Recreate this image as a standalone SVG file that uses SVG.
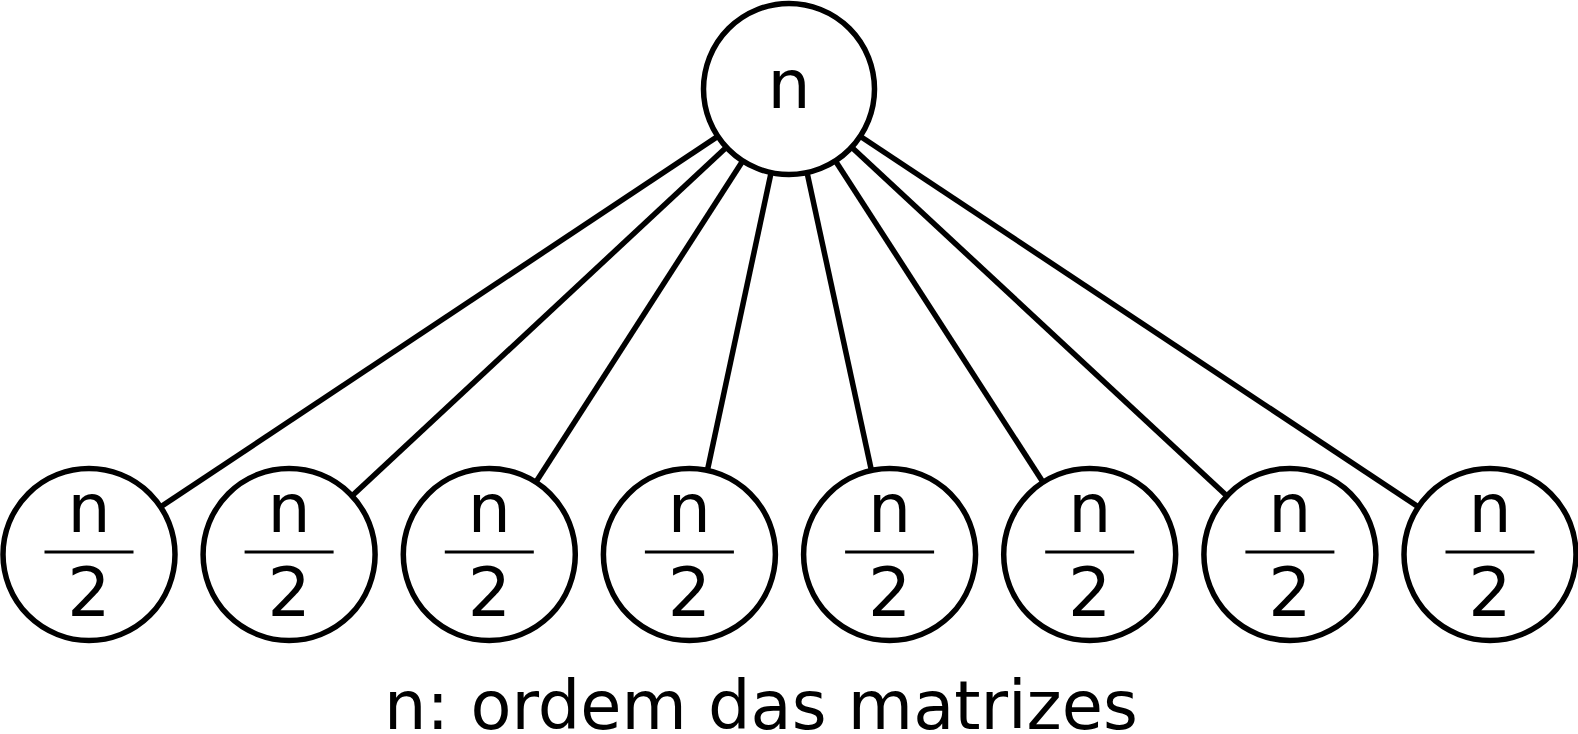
<svg xmlns="http://www.w3.org/2000/svg" width="1578" height="734" viewBox="0 0 1578 734">
<style>
.node{fill:#fff;stroke:#000;stroke-width:5.5}
.edge{stroke:#000;stroke-width:5.5;fill:none}
.bar{stroke:#000;stroke-width:3}
text{font-family:"DejaVu Sans",sans-serif;fill:#000;text-anchor:middle}
.t{font-size:68px}
.cap{font-size:67px}
</style>
<rect width="1578" height="734" fill="#fff"/>
<g id="connectors">
<line class="edge" x1="789" y1="89" x2="89" y2="554.5"/>
<line class="edge" x1="789" y1="89" x2="289.1" y2="554.5"/>
<line class="edge" x1="789" y1="89" x2="489.3" y2="554.5"/>
<line class="edge" x1="789" y1="89" x2="689.4" y2="554.5"/>
<line class="edge" x1="789" y1="89" x2="889.6" y2="554.5"/>
<line class="edge" x1="789" y1="89" x2="1089.7" y2="554.5"/>
<line class="edge" x1="789" y1="89" x2="1289.9" y2="554.5"/>
<line class="edge" x1="789" y1="89" x2="1490" y2="554.5"/>
</g>
<g id="root">
<circle class="node" cx="789" cy="89" r="85.5"/>
<text class="t" x="789" y="108">n</text>
</g>
<g id="c1"><circle class="node" cx="89" cy="554.5" r="86"/><text class="t" x="89" y="532">n</text><line class="bar" x1="44.5" y1="552" x2="133.5" y2="552"/><text class="t" x="89" y="616">2</text></g>
<g id="c2"><circle class="node" cx="289.1" cy="554.5" r="86"/><text class="t" x="289.1" y="532">n</text><line class="bar" x1="244.6" y1="552" x2="333.6" y2="552"/><text class="t" x="289.1" y="616">2</text></g>
<g id="c3"><circle class="node" cx="489.3" cy="554.5" r="86"/><text class="t" x="489.3" y="532">n</text><line class="bar" x1="444.8" y1="552" x2="533.8" y2="552"/><text class="t" x="489.3" y="616">2</text></g>
<g id="c4"><circle class="node" cx="689.4" cy="554.5" r="86"/><text class="t" x="689.4" y="532">n</text><line class="bar" x1="644.9" y1="552" x2="733.9" y2="552"/><text class="t" x="689.4" y="616">2</text></g>
<g id="c5"><circle class="node" cx="889.6" cy="554.5" r="86"/><text class="t" x="889.6" y="532">n</text><line class="bar" x1="845.1" y1="552" x2="934.1" y2="552"/><text class="t" x="889.6" y="616">2</text></g>
<g id="c6"><circle class="node" cx="1089.7" cy="554.5" r="86"/><text class="t" x="1089.7" y="532">n</text><line class="bar" x1="1045.2" y1="552" x2="1134.2" y2="552"/><text class="t" x="1089.7" y="616">2</text></g>
<g id="c7"><circle class="node" cx="1289.9" cy="554.5" r="86"/><text class="t" x="1289.9" y="532">n</text><line class="bar" x1="1245.4" y1="552" x2="1334.4" y2="552"/><text class="t" x="1289.9" y="616">2</text></g>
<g id="c8"><circle class="node" cx="1490" cy="554.5" r="86"/><text class="t" x="1490" y="532">n</text><line class="bar" x1="1445.5" y1="552" x2="1534.5" y2="552"/><text class="t" x="1490" y="616">2</text></g>
<text class="cap" x="761" y="729">n: ordem das matrizes</text>
</svg>
